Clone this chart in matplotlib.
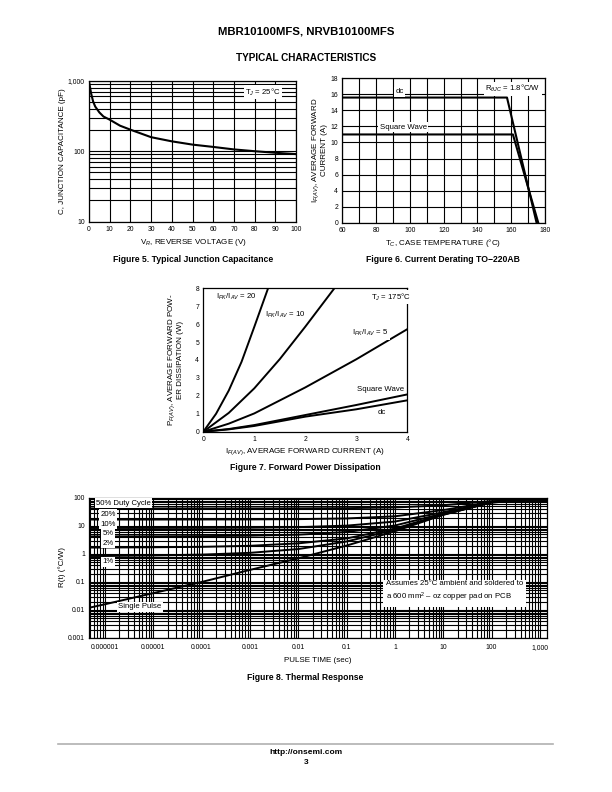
import matplotlib
matplotlib.use("Agg")
import matplotlib.pyplot as plt
from matplotlib.ticker import FixedLocator, NullFormatter, LogLocator, FixedFormatter

plt.rcParams['font.family'] = ['Liberation Sans', 'DejaVu Sans']
plt.rcParams['mathtext.fontset'] = 'custom'
plt.rcParams['mathtext.rm'] = 'Liberation Sans'
plt.rcParams['mathtext.it'] = 'Liberation Sans:italic'
plt.rcParams['mathtext.bf'] = 'Liberation Sans:bold'

# ---- data ----
# Figure 5: junction capacitance
vr = [0, 1, 2, 3, 5, 7, 10, 15, 20, 30, 40, 50, 60, 70, 80, 90, 100]
cap = [980, 665, 506, 430, 355, 310, 280, 230, 202, 158, 138, 124, 115, 106, 100, 95, 91]

# Figure 6: current derating
tc_dc = [60, 157.5, 175]
if_dc = [15.6, 15.6, 0]
tc_sq = [60, 161, 176]
if_sq = [11.0, 11.0, 0]

# Figure 7: forward power dissipation
i_20 = [0, 0.25, 0.5, 0.75, 1.0, 1.27]
p_20 = [0, 1.0, 2.3, 3.9, 5.85, 8.0]
i_10 = [0, 0.5, 1.0, 1.5, 2.0, 2.57]
p_10 = [0, 1.05, 2.42, 4.05, 5.86, 8.0]
i_5 = [0, 0.5, 1, 2, 3, 4]
p_5 = [0, 0.45, 1.02, 2.47, 4.04, 5.72]
i_sq = [0, 0.5, 1, 2, 3, 4]
p_sq = [0, 0.15, 0.37, 0.93, 1.49, 2.08]
i_dc = [0, 0.5, 1, 2, 3, 4]
p_dc = [0, 0.13, 0.32, 0.84, 1.25, 1.75]

# Figure 8: thermal response
t_pulse = [4.7e-7, 1e-6, 1e-5, 1e-4, 1e-3, 1e-2, 1e-1, 1, 10, 100, 1400]
r_single = [0.012, 0.016, 0.04, 0.1, 0.27, 0.7, 2.0, 6.5, 25, 70, 85]
r_d01 = [0.85, 0.85, 0.89, 0.95, 1.1, 1.5, 2.8, 7.3, 25.6, 70, 85]
r_d02 = [1.7, 1.7, 1.74, 1.8, 1.96, 2.4, 3.6, 8.1, 26, 70.3, 85]
r_d05 = [4.25, 4.26, 4.29, 4.35, 4.5, 4.9, 6.1, 10.4, 28, 70.8, 85]
r_d10 = [8.5, 8.5, 8.54, 8.6, 8.7, 9.1, 10.3, 14.4, 31, 71.5, 85]
r_d20 = [17, 17, 17, 17.1, 17.2, 17.6, 18.6, 22.2, 37, 73, 85]
r_d50 = [42.5, 42.5, 42.5, 42.6, 42.6, 42.9, 43.5, 45.8, 55, 77.5, 85]

x8_labels = ['0.000001', '0.00001', '0.0001', '0.001', '0.01', '0.1', '1', '10', '100', '1,000']
y8_labels = ['0.001', '0.01', '0.1', '1', '10', '100']

W, H = 612, 792
fig = plt.figure(figsize=(6.12, 7.92), dpi=100)

def box(l, t, r, b):
    return [l / W, 1 - b / H, (r - l) / W, (b - t) / H]

def ft(x, y, s, **kw):
    fig.text(x / W, 1 - y / H, s, **kw)

TS = 4.9   # tick font size
AS = 5.6   # in-plot annotation font size
LS = 5.8   # axis label font size
CS = 6.2   # caption font size
wbox = dict(facecolor='white', edgecolor='none', pad=1.0)

def style(ax):
    ax.tick_params(length=0, labelsize=TS, pad=3)
    for s in ax.spines.values():
        s.set_linewidth(0.9)

# ---- Figure 5 ----
ax5 = fig.add_axes(box(89, 80.7, 296, 221.7))
ax5.plot(vr, cap, color='black', lw=1.5)
ax5.set_yscale('log')
ax5.set_xlim(0, 100)
ax5.set_ylim(10, 1000)
ax5.set_xticks(range(0, 101, 10))
ax5.yaxis.set_major_locator(FixedLocator([10, 100, 1000]))
ax5.yaxis.set_major_formatter(FixedFormatter(['10', '100', '1,000']))
ax5.yaxis.set_minor_locator(LogLocator(base=10, subs=range(2, 10)))
ax5.yaxis.set_minor_formatter(NullFormatter())
ax5.grid(True, which='both', color='black', lw=0.8)
ax5.tick_params(which='minor', length=0)
style(ax5)
ax5.text(84, 690, 'T$_J$ = 25°C', fontsize=AS, ha='center', va='center', bbox=wbox)
ft(193, 243, 'V$_R$, REVERSE VOLTAGE (V)', fontsize=LS, ha='center', va='center')
ft(63, 151, 'C, JUNCTION CAPACITANCE (pF)', fontsize=LS, ha='center', va='center', rotation=90)
ft(193, 260, 'Figure 5. Typical Junction Capacitance', fontsize=CS, ha='center', va='center', weight='bold')

# ---- Figure 6 ----
ax6 = fig.add_axes(box(342.3, 78.3, 545, 222.7))
ax6.plot(tc_dc, if_dc, color='black', lw=1.5)
ax6.plot(tc_sq, if_sq, color='black', lw=1.5)
ax6.set_xlim(60, 180)
ax6.set_ylim(0, 18)
ax6.set_xticks(range(60, 181, 20))
ax6.xaxis.set_minor_locator(FixedLocator(range(70, 180, 20)))
ax6.set_yticks(range(0, 19, 2))
ax6.grid(True, which='both', color='black', lw=0.8)
ax6.tick_params(which='minor', length=0)
style(ax6)
ax6.text(94, 16.3, 'dc', fontsize=AS, ha='center', va='center', bbox=wbox)
ax6.text(96, 11.9, 'Square Wave', fontsize=AS, ha='center', va='center', bbox=wbox)
ax6.text(161, 16.7, 'R$_{\\theta JC}$ = 1.8°C/W', fontsize=AS, ha='center', va='center', bbox=wbox)
ft(443, 243, 'T$_C$, CASE TEMPERATURE (°C)', fontsize=LS, ha='center', va='center')
ft(319, 150, 'I$_{F(AV)}$, AVERAGE FORWARD\nCURRENT (A)', fontsize=LS, ha='center', va='center',
   rotation=90, linespacing=1.0)
ft(443, 260, 'Figure 6. Current Derating TO\u2212220AB', fontsize=CS, ha='center', va='center', weight='bold')

# ---- Figure 7 ----
ax7 = fig.add_axes(box(203.3, 288.3, 407.3, 431.7))
for xs, ys in [(i_20, p_20), (i_10, p_10), (i_5, p_5), (i_sq, p_sq), (i_dc, p_dc)]:
    ax7.plot(xs, ys, color='black', lw=1.4)
ax7.set_xlim(0, 4)
ax7.set_ylim(0, 8)
ax7.set_xticks(range(0, 5))
ax7.set_yticks(range(0, 9))
style(ax7)
ax7.text(0.65, 7.5, 'I$_{PK}$/I$_{AV}$ = 20', fontsize=AS, ha='center', va='center', bbox=wbox)
ax7.text(1.6, 6.5, 'I$_{PK}$/I$_{AV}$ = 10', fontsize=AS, ha='center', va='center', bbox=wbox)
ax7.text(3.27, 5.5, 'I$_{PK}$/I$_{AV}$ = 5', fontsize=AS, ha='center', va='center', bbox=wbox)
ax7.text(3.67, 7.5, 'T$_J$ = 175°C', fontsize=AS, ha='center', va='center', bbox=wbox)
ax7.text(3.47, 2.38, 'Square Wave', fontsize=AS, ha='center', va='center', bbox=wbox)
ax7.text(3.5, 1.06, 'dc', fontsize=AS, ha='center', va='center', bbox=wbox)
ft(305, 452, 'I$_{F(AV)}$, AVERAGE FORWARD CURRENT (A)', fontsize=LS, ha='center', va='center')
ft(175, 360, 'P$_{F(AV)}$, AVERAGE FORWARD POW-\nER DISSIPATION (W)', fontsize=LS, ha='center',
   va='center', rotation=90, linespacing=1.0)
ft(305, 468, 'Figure 7. Forward Power Dissipation', fontsize=CS, ha='center', va='center', weight='bold')

# ---- Figure 8 ----
ax8 = fig.add_axes(box(89, 498, 547, 638))
for r in [r_single, r_d01, r_d02, r_d05, r_d10, r_d20, r_d50]:
    ax8.plot(t_pulse, r, color='black', lw=1.4)
ax8.set_xscale('log')
ax8.set_yscale('log')
ax8.set_xlim(4.7e-7, 1.4e3)
ax8.set_ylim(0.001, 100)
ax8.xaxis.set_major_locator(FixedLocator([10.0 ** k for k in range(-6, 4)]))
ax8.xaxis.set_major_formatter(FixedFormatter(x8_labels))
ax8.yaxis.set_major_locator(FixedLocator([10.0 ** k for k in range(-3, 3)]))
ax8.yaxis.set_major_formatter(FixedFormatter(y8_labels))
for a in (ax8.xaxis, ax8.yaxis):
    a.set_minor_locator(LogLocator(base=10, subs=range(2, 10), numticks=20))
    a.set_minor_formatter(NullFormatter())
ax8.grid(True, which='both', color='black', lw=0.8)
ax8.tick_params(which='minor', length=0)
style(ax8)
for lab in ax8.get_xticklabels():
    lab.set_verticalalignment('baseline')
ax8.tick_params(axis='x', pad=8)
ft(96, 503.3, '50% Duty Cycle', fontsize=AS, ha='left', va='center', bbox=wbox)
ft(108, 514, '20%', fontsize=AS, ha='center', va='center', bbox=wbox)
ft(108, 524, '10%', fontsize=AS, ha='center', va='center', bbox=wbox)
ft(108, 533.3, '5%', fontsize=AS, ha='center', va='center', bbox=wbox)
ft(108, 543.3, '2%', fontsize=AS, ha='center', va='center', bbox=wbox)
ft(108, 561.7, '1%', fontsize=AS, ha='center', va='center', bbox=wbox)
ft(140, 606.7, 'Single Pulse', fontsize=AS, ha='center', va='center', bbox=wbox)
ft(386, 592, 'Assumes 25°C ambient and soldered to\na 600 mm$^2$ \u2013 oz copper pad on PCB',
   fontsize=AS, ha='left', va='center', linespacing=1.4, bbox=dict(facecolor='white', edgecolor='none', pad=2))
ft(318, 661, 'PULSE TIME (sec)', fontsize=LS, ha='center', va='center')
ft(62, 567, 'R(t) (°C/W)', fontsize=LS, ha='center', va='center', rotation=90)
ft(305, 678, 'Figure 8. Thermal Response', fontsize=CS, ha='center', va='center', weight='bold')

# ---- page header / footer ----
ft(306, 31, 'MBR10100MFS, NRVB10100MFS', fontsize=8.2, ha='center', va='center', weight='bold')
ft(306, 58, 'TYPICAL CHARACTERISTICS', fontsize=7.2, ha='center', va='center', weight='bold')
fig.add_artist(plt.Line2D([58 / W, 553 / W], [1 - 744 / H, 1 - 744 / H], color='#b0b0b0', lw=1.2))
ft(306, 752, 'http://onsemi.com', fontsize=6.0, ha='center', va='center', weight='bold')
ft(306, 762, '3', fontsize=6.0, ha='center', va='center', weight='bold')

fig.savefig('out.png', dpi=100)
